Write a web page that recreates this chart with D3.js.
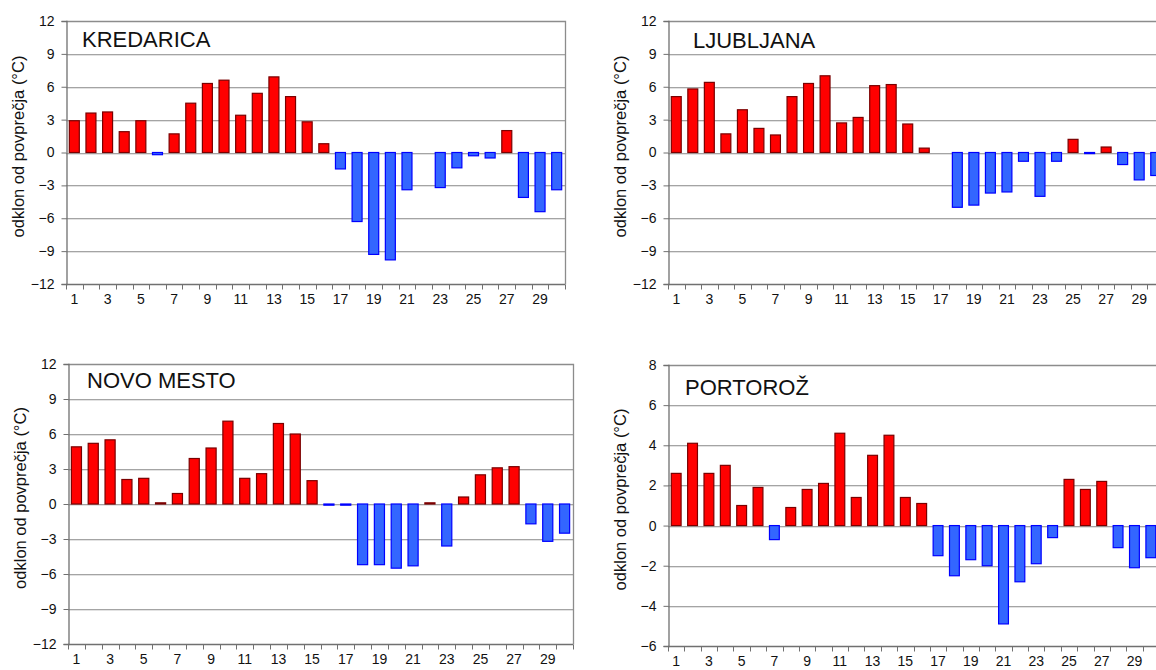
<!DOCTYPE html>
<html>
<head>
<meta charset="utf-8">
<script src="https://cdn.jsdelivr.net/npm/d3@7"></script>
<style>
  html, body { margin: 0; padding: 0; background: #fff; }
  svg { display: block; }
  text { font-family: "Liberation Sans", Arial, sans-serif; fill: #111; }
</style>
</head>
<body>
<svg id="chart" width="1156" height="670"></svg>
<script>
// ---- data ----
const days = d3.range(1, 31);
const dayLabels = days.filter(d => d % 2 === 1);
const stations = ["KREDARICA", "LJUBLJANA", "NOVO MESTO", "PORTOROŽ"];
const kredarica = [2.9, 3.6, 3.7, 1.9, 2.9, -0.2, 1.7, 4.5, 6.3, 6.6, 3.4, 5.4, 6.9, 5.1, 2.8,
                   0.8, -1.5, -6.3, -9.3, -9.8, -3.4, 0, -3.2, -1.4, -0.3, -0.5, 2.0, -4.1, -5.4, -3.4];
const ljubljana = [5.1, 5.8, 6.4, 1.7, 3.9, 2.2, 1.6, 5.1, 6.3, 7.0, 2.7, 3.2, 6.1, 6.2, 2.6,
                   0.4, 0, -5.0, -4.8, -3.7, -3.6, -0.8, -4.0, -0.8, 1.2, -0.1, 0.5, -1.1, -2.5, -2.1];
const novoMesto = [4.9, 5.2, 5.5, 2.1, 2.2, 0.1, 0.9, 3.9, 4.8, 7.1, 2.2, 2.6, 6.9, 6.0, 2.0,
                   -0.1, -0.1, -5.2, -5.2, -5.5, -5.3, 0.1, -3.6, 0.6, 2.5, 3.1, 3.2, -1.7, -3.2, -2.5];
const portoroz = [2.6, 4.1, 2.6, 3.0, 1.0, 1.9, -0.7, 0.9, 1.8, 2.1, 4.6, 1.4, 3.5, 4.5, 1.4,
                  1.1, -1.5, -2.5, -1.7, -2.0, -4.9, -2.8, -1.9, -0.6, 2.3, 1.8, 2.2, -1.1, -2.1, -1.6];
const yTicks12 = [-12, -9, -6, -3, 0, 3, 6, 9, 12];
const yTicks8 = [-6, -4, -2, 0, 2, 4, 6, 8];
const yLabel = "odklon od povprečja (°C)";

// ---- layout ----
const panels = [
  { title: stations[0], data: kredarica, ticks: yTicks12, x0: 66, x1: 565, y0: 21, y1: 284, tx: 82, ty: 47 },
  { title: stations[1], data: ljubljana, ticks: yTicks12, x0: 668, x1: 1164, y0: 21, y1: 284, tx: 693, ty: 48 },
  { title: stations[2], data: novoMesto, ticks: yTicks12, x0: 68, x1: 573, y0: 364, y1: 644, tx: 87, ty: 388 },
  { title: stations[3], data: portoroz, ticks: yTicks8, x0: 668, x1: 1159, y0: 365, y1: 646, tx: 685, ty: 395 }
];

const svg = d3.select("#chart");

panels.forEach(p => {
  const g = svg.append("g");
  const x = d3.scaleBand().domain(days).range([p.x0, p.x1]).paddingInner(0.4).paddingOuter(0.2);
  const y = d3.scaleLinear().domain(d3.extent(p.ticks)).range([p.y1, p.y0]);
  const step = x.step();
  const px = v => Math.round(v) + 0.5;

  // gridlines
  p.ticks.slice(1, -1).forEach(t => {
    g.append("line").attr("x1", p.x0).attr("x2", p.x1)
      .attr("y1", px(y(t))).attr("y2", px(y(t)))
      .attr("stroke", "#a4a4a4").attr("stroke-width", 1);
    g.append("line").attr("x1", p.x0).attr("x2", p.x1)
      .attr("y1", px(y(t)) + 1).attr("y2", px(y(t)) + 1)
      .attr("stroke", "#e2e2e2").attr("stroke-width", 1);
  });

  // frame top/right
  g.append("path")
    .attr("d", `M${p.x0},${px(p.y0)}H${px(p.x1)}V${px(p.y1)}`)
    .attr("fill", "none").attr("stroke", "#8c8c8c").attr("stroke-width", 1.3);

  // bars
  g.selectAll("rect.bar").data(p.data.map((v, i) => ({ d: days[i], v })))
    .enter().filter(d => d.v !== 0)
    .append("rect")
    .attr("x", d => x(d.d))
    .attr("width", x.bandwidth())
    .attr("y", d => y(Math.max(0, d.v)))
    .attr("height", d => Math.max(1, Math.abs(y(d.v) - y(0))))
    .attr("fill", d => d.v > 0 ? "#ff0000" : "#3366ff")
    .attr("stroke", d => d.v > 0 ? "#7a0000" : "#0000ff")
    .attr("stroke-width", 1.2);

  // left axis
  const yAxis = d3.axisLeft(y).tickValues(p.ticks).tickSize(5).tickPadding(7).tickFormat(d3.format("d"));
  const ya = g.append("g").attr("transform", `translate(${px(p.x0)},0)`).call(yAxis);
  ya.select(".domain").attr("stroke", "#707070").attr("stroke-width", 1.3);
  ya.selectAll(".tick line").attr("stroke", "#707070");
  ya.selectAll(".tick text").attr("font-size", 14).attr("font-family", "Liberation Sans, Arial, sans-serif").attr("fill", "#111");

  // bottom axis line + boundary ticks
  g.append("line").attr("x1", p.x0).attr("x2", p.x1).attr("y1", px(p.y1)).attr("y2", px(p.y1))
    .attr("stroke", "#707070").attr("stroke-width", 1.3);
  d3.range(0, days.length + 1).forEach(i => {
    const xx = px(p.x0 + i * step);
    g.append("line").attr("x1", xx).attr("x2", xx).attr("y1", px(p.y1)).attr("y2", px(p.y1) + 5)
      .attr("stroke", "#707070");
  });
  const xAxis = d3.axisBottom(x).tickValues(dayLabels).tickSize(0).tickPadding(10);
  const xa = g.append("g").attr("transform", `translate(0,${px(p.y1)})`).call(xAxis);
  xa.select(".domain").remove();
  xa.selectAll(".tick text").attr("font-size", 14).attr("font-family", "Liberation Sans, Arial, sans-serif").attr("fill", "#111");

  // title
  g.append("text").attr("x", p.tx).attr("y", p.ty).attr("font-size", 22).text(p.title);

  // y label
  g.append("text")
    .attr("transform", `translate(${p.x0 - 42},${(p.y0 + p.y1) / 2 - 6}) rotate(-90)`)
    .attr("text-anchor", "middle").attr("font-size", 16.5).text(yLabel);
});
</script>
</body>
</html>
